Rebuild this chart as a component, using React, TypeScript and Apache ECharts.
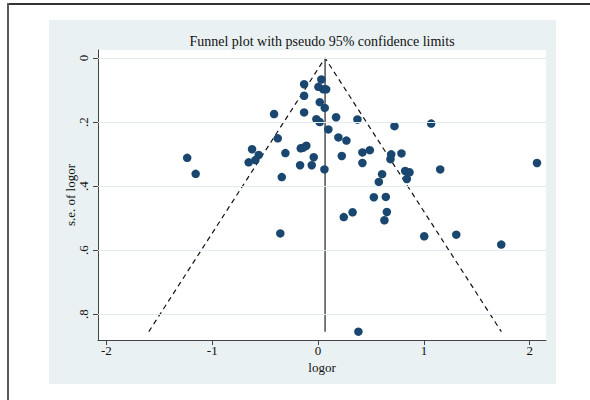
import { useEffect, useRef } from "react";
import * as echarts from "echarts";

// Study effect sizes (log odds ratio) and their standard errors
const logor = [
  -1.237, -1.157, -0.656, -0.593, -0.561, -0.624, -0.416, -0.381, -0.343, -0.309,
  -0.357, -0.164, -0.139, -0.111, -0.17, -0.06, -0.041, -0.132, -0.132, -0.132,
  -0.016, 0.016, 0.031, 0.003, 0.05, 0.076, 0.016, 0.063, 0.06, 0.097,
  0.17, 0.192, 0.268, 0.224, 0.243, 0.326, 0.372, 0.381, 0.419, 0.419,
  0.489, 0.527, 0.64, 0.574, 0.605, 0.627, 0.65, 0.684, 0.691, 0.722,
  0.788, 0.823, 0.864, 0.839, 1.003, 1.069, 1.154, 1.306, 1.731, 2.069,
];
const seLogor = [
  0.312, 0.362, 0.326, 0.319, 0.303, 0.285, 0.175, 0.251, 0.372, 0.297,
  0.548, 0.282, 0.28, 0.274, 0.335, 0.335, 0.31, 0.082, 0.118, 0.17,
  0.191, 0.2, 0.067, 0.09, 0.098, 0.098, 0.138, 0.156, 0.348, 0.223,
  0.185, 0.248, 0.258, 0.306, 0.497, 0.482, 0.192, 0.855, 0.328, 0.295,
  0.288, 0.435, 0.434, 0.387, 0.363, 0.507, 0.481, 0.316, 0.301, 0.213,
  0.298, 0.353, 0.357, 0.378, 0.557, 0.205, 0.348, 0.552, 0.583, 0.328,
];

// Funnel (pseudo 95% limits)
const funnelLeftEnd = [-1.6, 0.855];
const funnelApex = [0.066, 0];
const funnelRightEnd = [1.732, 0.855];
const pooledBottom = [0.066, 0.855];

const xTicks = [-2, -1, 0, 1, 2];
const yTicks = [0, 0.2, 0.4, 0.6, 0.8];

const TITLE = "Funnel plot with pseudo 95% confidence limits";
const FONT = "'Liberation Serif', 'Times New Roman', serif";

export default function App() {
  const ref = useRef<HTMLDivElement>(null);

  useEffect(() => {
    document.body.style.margin = "0";
    if (!ref.current) return;
    const chart = echarts.init(ref.current, null, { renderer: "svg" });
    const points = logor.map((x, i) => [x, seLogor[i]]);
    chart.setOption({
      animation: false,
      backgroundColor: "transparent",
      textStyle: { fontFamily: FONT },
      graphic: [
        {
          type: "text",
          x: 322,
          y: 41,
          style: {
            text: TITLE,
            fill: "#111",
            font: `14px ${FONT}`,
            textAlign: "center",
            textVerticalAlign: "middle",
          },
        },
      ],
      grid: {
        left: 98,
        right: 44,
        top: 50,
        bottom: 60,
        show: true,
        backgroundColor: "#ffffff",
        borderWidth: 0,
      },
      xAxis: {
        type: "value",
        min: -2.08,
        max: 2.154,
        name: "logor",
        nameLocation: "middle",
        nameGap: 21,
        nameMoveOverlap: false,
        nameTextStyle: { fontFamily: FONT, fontSize: 13, color: "#111" },
        axisLine: { show: true, onZero: false, lineStyle: { color: "#444", width: 1 } },
        axisTick: { show: true, length: 5, customValues: xTicks, lineStyle: { color: "#444" } },
        axisLabel: {
          customValues: xTicks,
          margin: 4,
          fontFamily: FONT,
          fontSize: 13,
          color: "#111",
          formatter: (v: number) => String(v),
        },
        splitLine: { show: false },
      },
      yAxis: {
        type: "value",
        inverse: true,
        min: -0.025,
        max: 0.881,
        name: "s.e. of logor",
        nameLocation: "middle",
        nameGap: 21,
        nameMoveOverlap: false,
        nameTextStyle: { fontFamily: FONT, fontSize: 13, color: "#111" },
        axisLine: { show: true, onZero: false, lineStyle: { color: "#444", width: 1 } },
        axisTick: { show: true, length: 5, customValues: yTicks, lineStyle: { color: "#444" } },
        axisLabel: {
          customValues: yTicks,
          rotate: 90,
          margin: 8,
          fontFamily: FONT,
          fontSize: 13,
          color: "#111",
          formatter: (v: number) => (v === 0 ? "0" : String(v).replace(/^0/, "")),
        },
        splitLine: { show: false },
      },
      series: [
        {
          type: "line",
          data: [],
          silent: true,
          z: 1,
          markLine: {
            silent: true,
            symbol: ["none", "none"],
            label: { show: false },
            lineStyle: { type: "solid", color: "#E0ECEF", width: 1 },
            emphasis: { disabled: true },
            data: yTicks.map((v) => ({ yAxis: v })),
          },
        },
        {
          type: "line",
          data: [funnelLeftEnd, funnelApex, funnelRightEnd],
          symbol: "none",
          silent: true,
          z: 2,
          lineStyle: { color: "#111", width: 1.2, type: [5, 4] },
        },
        {
          type: "line",
          data: [funnelApex, pooledBottom],
          symbol: "none",
          silent: true,
          z: 2,
          lineStyle: { color: "#222", width: 1.2, type: "solid" },
        },
        {
          type: "scatter",
          data: points,
          symbol: "circle",
          symbolSize: 8.5,
          z: 3,
          itemStyle: { color: "#1A476F", opacity: 1, borderWidth: 0 },
        },
      ],
    });
    return () => chart.dispose();
  }, []);

  return (
    <div style={{ position: "relative", width: 590, height: 400, background: "#ffffff", overflow: "hidden" }}>
      <div style={{ position: "absolute", left: 7, top: 3, width: 583, height: 2, background: "#333" }} />
      <div style={{ position: "absolute", left: 7, top: 3, width: 2, height: 397, background: "#5a5a5a" }} />
      <div style={{ position: "absolute", left: 49, top: 20, width: 507, height: 364, background: "#EAF1F3" }} />
      <div ref={ref} style={{ position: "absolute", left: 0, top: 0, width: 590, height: 400 }} />
    </div>
  );
}
